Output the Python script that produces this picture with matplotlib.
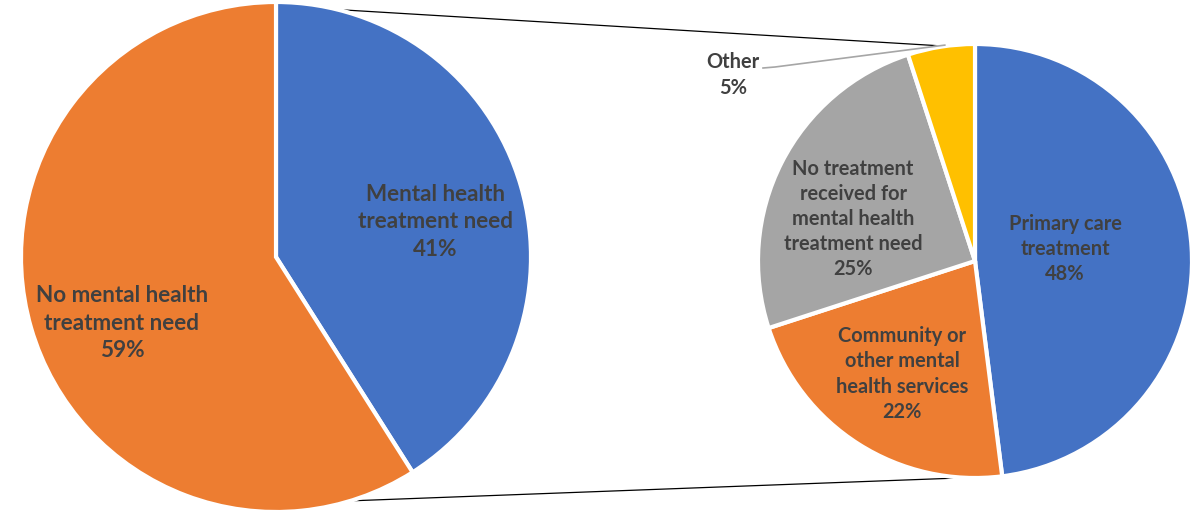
import numpy as np
import matplotlib
matplotlib.use("Agg")
import matplotlib.pyplot as plt

# data
main_labels = ['Mental health\ntreatment need', 'No mental health\ntreatment need']
main_values = [41, 59]
main_colors = ['#4472C4', '#ED7D31']

sub_labels = ['Primary care\ntreatment', 'Community or\nother mental\nhealth services',
              'No treatment\nreceived for\nmental health\ntreatment need', 'Other']
sub_values = [48, 22, 25, 5]
sub_colors = ['#4472C4', '#ED7D31', '#A5A5A5', '#FFC000']

TXT = '#404040'
plt.rcParams['font.family'] = ['Lato', 'DejaVu Sans']

fig = plt.figure(figsize=(11.96, 5.12), dpi=100)
ax = fig.add_axes([0, 0, 1, 1])

# geometry in pixel-like units (y up)
c1, r1 = (276, 255), 255
c2, r2 = (975, 251), 217

ax.pie(main_values, colors=main_colors, startangle=90, counterclock=False,
       center=c1, radius=r1, frame=True,
       wedgeprops=dict(edgecolor='white', linewidth=3))
ax.pie(sub_values, colors=sub_colors, startangle=90, counterclock=False,
       center=c2, radius=r2, frame=True,
       wedgeprops=dict(edgecolor='white', linewidth=3))
ax.set_xlim(0, 1196)
ax.set_ylim(0, 512)
ax.set_aspect('equal')
ax.axis('off')

# connector lines between the two pies
def on_circle(c, r, deg):
    a = np.radians(deg)
    return c[0] + r * np.cos(a), c[1] + r * np.sin(a)

for a1, a2 in [(76, 98), (-73, -83)]:
    p = on_circle(c1, r1, a1)
    q = on_circle(c2, r2, a2)
    ax.plot([p[0], q[0]], [p[1], q[1]], color='black', lw=0.9, zorder=0)

# labels
main_pos = [(435, 290), (122, 189)]
for lab, v, (x, y) in zip(main_labels, main_values, main_pos):
    ax.text(x, y, f'{lab}\n{v}%', ha='center', va='center', color=TXT,
            fontsize=16.2, fontweight='bold', linespacing=1.4)

sub_pos = [(1065, 263), (902, 138), (853, 293), (733, 437)]
for lab, v, (x, y) in zip(sub_labels, sub_values, sub_pos):
    ax.text(x, y, f'{lab}\n{v}%', ha='center', va='center', color=TXT,
            fontsize=14.4, fontweight='bold', linespacing=1.32)

# leader line for 'Other'
q = on_circle(c2, r2, 98)
ax.plot([763, 775, q[0]], [444, 445, q[1] + 1], color='#A6A6A6', lw=1.2)

fig.savefig('out.png', dpi=100)
